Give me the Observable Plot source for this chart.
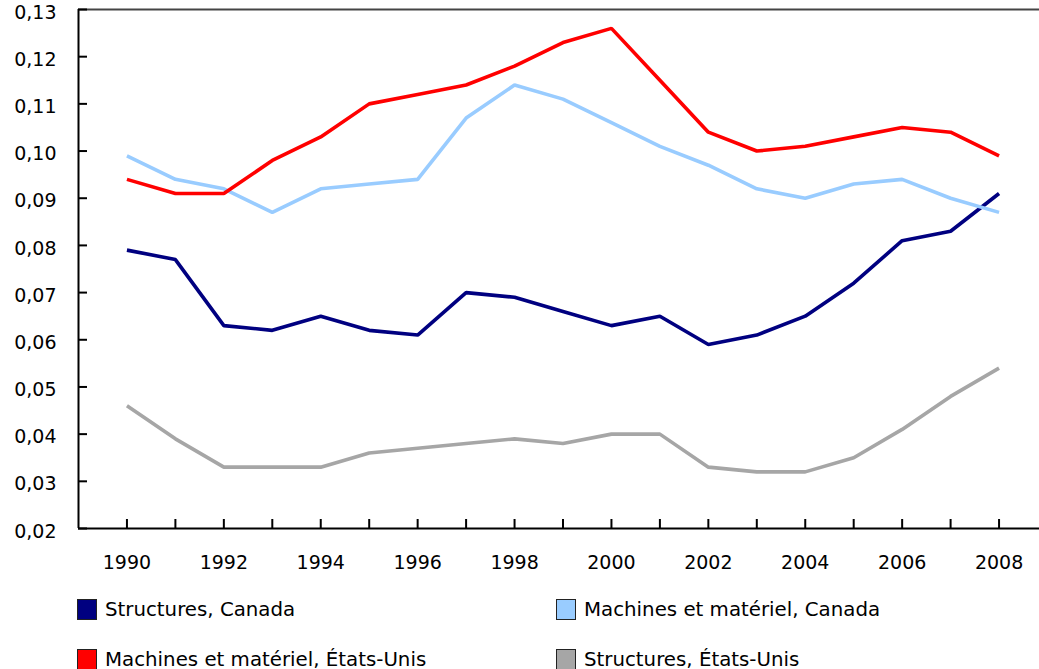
<!DOCTYPE html>
<html>
<head>
<meta charset="utf-8">
<script src="https://cdn.jsdelivr.net/npm/d3@7"></script>
<script src="https://cdn.jsdelivr.net/npm/@observablehq/plot@0.6"></script>
<style>
  html, body { margin: 0; padding: 0; background: #fff; overflow: hidden; }
  body { width: 1039px; height: 669px; position: relative; font-family: "DejaVu Sans", Verdana, sans-serif; }
  #chart { position: absolute; left: 0; top: 0; width: 1050px; }
  #chart svg { max-width: none !important; width: 1050px; height: 580px; }
  .legend-item { position: absolute; display: flex; align-items: center; font-size: 19.8px; color: #000; white-space: nowrap; }
  .sw { width: 20px; height: 21px; border: 1px solid #222; margin-right: 8px; box-sizing: border-box; }
</style>
</head>
<body>
<div id="chart"></div>
<div id="legend"></div>
<script>
const years = [1990,1991,1992,1993,1994,1995,1996,1997,1998,1999,2000,2001,2002,2003,2004,2005,2006,2007,2008];
const seriesNames = ["Structures, Canada", "Machines et matériel, Canada", "Machines et matériel, États-Unis", "Structures, États-Unis"];
const seriesColors = ["#000080", "#99ccff", "#ff0000", "#a6a6a6"];
const structuresCanada = [0.079,0.077,0.063,0.062,0.065,0.062,0.061,0.070,0.069,0.066,0.063,0.065,0.059,0.061,0.065,0.072,0.081,0.083,0.091];
const machinesCanada   = [0.099,0.094,0.092,0.087,0.092,0.093,0.094,0.107,0.114,0.111,0.106,0.101,0.097,0.092,0.090,0.093,0.094,0.090,0.087];
const machinesUS       = [0.094,0.091,0.091,0.098,0.103,0.110,0.112,0.114,0.118,0.123,0.126,0.115,0.104,0.100,0.101,0.103,0.105,0.104,0.099];
const structuresUS     = [0.046,0.039,0.033,0.033,0.033,0.036,0.037,0.038,0.039,0.038,0.040,0.040,0.033,0.032,0.032,0.035,0.041,0.048,0.054];
const yTicks = [0.02,0.03,0.04,0.05,0.06,0.07,0.08,0.09,0.10,0.11,0.12,0.13];
const xTicks = years;

const allSeries = [structuresCanada, machinesCanada, machinesUS, structuresUS];
const data = [];
allSeries.forEach((vals, i) => vals.forEach((v, j) => data.push({year: years[j], value: v, series: seriesNames[i]})));

const chart = Plot.plot({
  width: 1050,
  height: 580,
  marginLeft: 78,
  marginRight: 3,
  marginTop: 9,
  marginBottom: 52,
  style: {fontFamily: "'DejaVu Sans', Verdana, sans-serif", fontSize: "19px", color: "#000", background: "transparent", maxWidth: "none", overflow: "visible"},
  x: {domain: [1989, 2009], label: null},
  y: {domain: [0.02, 0.13], label: null},
  color: {domain: seriesNames, range: seriesColors},
  marks: [
    Plot.ruleY([0.13], {stroke: "#444", strokeWidth: 2}),
    Plot.ruleX([1989], {stroke: "#000", strokeWidth: 2}),
    Plot.ruleY([0.02], {stroke: "#000", strokeWidth: 2}),
    Plot.axisY({ticks: yTicks, tickSize: -9, strokeWidth: 2, label: null, tickFormat: () => ""}),
    Plot.axisY({ticks: yTicks, tickSize: 0, tickPadding: 22, dy: 3, label: null, tickFormat: d => d.toFixed(2).replace(".", ",")}),
    Plot.axisX({ticks: xTicks, tickSize: -9, tickPadding: 36, strokeWidth: 2, label: null, tickFormat: d => d % 2 === 0 ? String(d) : ""}),
    Plot.line(data, {x: "year", y: "value", z: "series", stroke: "series", strokeWidth: 3.6, strokeLinejoin: "miter", strokeLinecap: "butt"})
  ]
});
document.getElementById("chart").appendChild(chart);

const legendPos = [[77, 598], [556, 598], [77, 648], [556, 648]];
const legend = document.getElementById("legend");
seriesNames.forEach((name, i) => {
  const item = document.createElement("div");
  item.className = "legend-item";
  item.style.left = legendPos[i][0] + "px";
  item.style.top = legendPos[i][1] + "px";
  const sw = document.createElement("div");
  sw.className = "sw";
  sw.style.background = seriesColors[i];
  const label = document.createElement("span");
  label.textContent = name;
  item.appendChild(sw);
  item.appendChild(label);
  legend.appendChild(item);
});
</script>
</body>
</html>
